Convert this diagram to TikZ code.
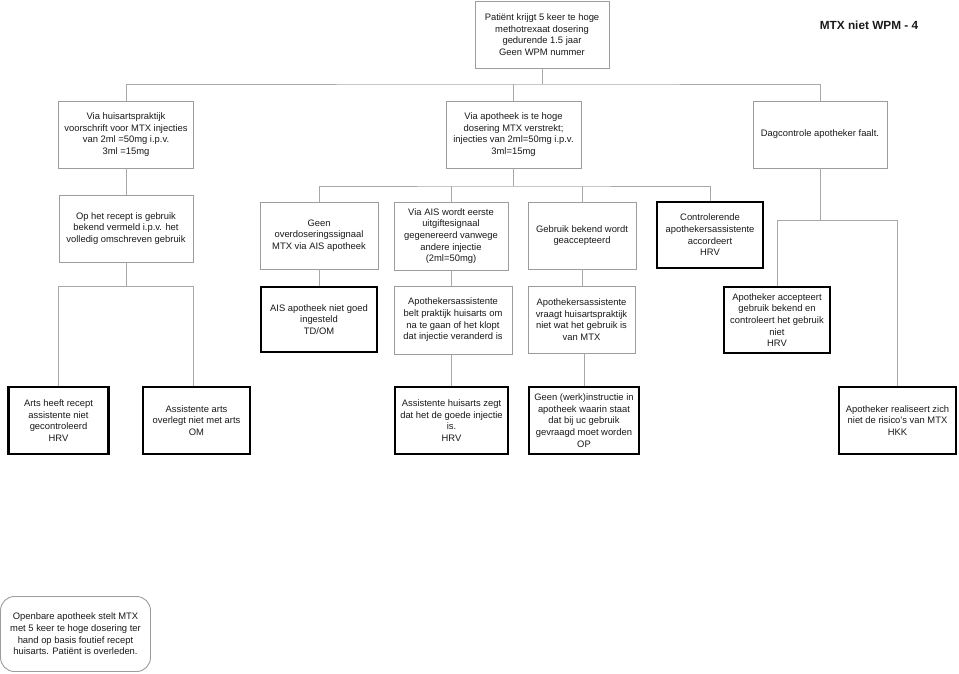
\documentclass[tikz,border=0pt]{standalone}
\usepackage{fontspec}
\setmainfont{Liberation Sans}
\definecolor{linegray}{HTML}{A8A8A8}
\definecolor{boxgray}{HTML}{9C9C9C}
\definecolor{txt}{HTML}{1A1A1A}
\begin{document}
\begin{tikzpicture}[x=1pt,y=-1pt,
  every node/.style={text=txt,font=\fontsize{9.4}{11.7}\selectfont,align=center,inner sep=0pt},
  thinbox/.style={draw=boxgray,line width=0.9pt,fill=white,rectangle},
  thickbox/.style={draw=black,line width=2.4pt,fill=white,rectangle},
  roundbox/.style={draw=boxgray,line width=0.9pt,fill=white,rectangle,rounded corners=14pt},
  conn/.style={draw=linegray,line width=0.9pt},
  sz/.style 2 args={minimum width=#1pt,minimum height=#2pt}]
\useasboundingbox (0,0) rectangle (959,673);
\fill[white] (0,0) rectangle (959,673);

% title
\node[font=\bfseries\fontsize{11.8}{14}\selectfont] (title) at (869,25) {MTX niet WPM - 4};

% row 1
\node[thinbox,sz={134}{67}] (top) at (542,34.5) {Patiënt krijgt 5 keer te hoge\\methotrexaat dosering\\gedurende 1.5 jaar\\Geen WPM nummer};

% row 2
\node[thinbox,sz={135}{67}] (A) at (126,134.5) {Via huisartspraktijk\\voorschrift voor MTX injecties\\van 2ml =50mg i.p.v.\\3ml =15mg};
\node[thinbox,sz={135}{67}] (B) at (513.5,134.5) {Via apotheek is te hoge\\dosering MTX verstrekt;\\injecties van 2ml=50mg i.p.v.\\3ml=15mg};
\node[thinbox,sz={134}{67}] (C) at (820,134.5) {Dagcontrole apotheker faalt.};

% row 3
\node[thinbox,sz={134}{67}] (oprecept) at (126,228.5) {Op het recept is gebruik\\bekend vermeld i.p.v. het\\volledig omschreven gebruik};
\node[thinbox,sz={118}{67}] (geen) at (319,235.5) {Geen\\overdoseringssignaal\\MTX via AIS apotheek};
\node[thinbox,sz={114}{68}] (via) at (451,236) {Via AIS wordt eerste\\uitgiftesignaal\\gegenereerd vanwege\\andere injectie\\(2ml=50mg)};
\node[thinbox,sz={108}{67}] (gebr) at (582,235.5) {Gebruik bekend wordt\\geaccepteerd};
\node[thickbox,sz={106}{66}] (ctrl) at (710,235) {Controlerende\\apothekersassistente\\accordeert\\HRV};

% row 4
\node[thickbox,sz={116}{65}] (ais) at (319,319.5) {AIS apotheek niet goed\\ingesteld\\TD/OM};
\node[thinbox,sz={118}{68}] (belt) at (453,320) {Apothekersassistente\\belt praktijk huisarts om\\na te gaan of het klopt\\dat injectie veranderd is};
\node[thinbox,sz={107}{67}] (vraagt) at (581.5,319.5) {Apothekersassistente\\vraagt huisartspraktijk\\niet wat het gebruik is\\van MTX};
\node[thickbox,sz={106}{66}] (acc) at (777,320) {Apotheker accepteert\\gebruik bekend en\\controleert het gebruik\\niet\\HRV};

% row 5
\node[thickbox,sz={100}{67}] (arts) at (58.5,420.5) {Arts heeft recept\\assistente niet\\gecontroleerd\\HRV};
\node[thickbox,sz={107}{67}] (assarts) at (196.5,420.5) {Assistente arts\\overlegt niet met arts\\OM};
\node[thickbox,sz={113}{67}] (huis) at (451.5,420.5) {Assistente huisarts zegt\\dat het de goede injectie\\is.\\HRV};
\node[thickbox,sz={110}{67}] (werk) at (584,420.5) {Geen (werk)instructie in\\apotheek waarin staat\\dat bij uc gebruik\\gevraagd moet worden\\OP};
\node[thickbox,sz={117}{67}] (real) at (897.5,420.5) {Apotheker realiseert zich\\niet de risico's van MTX\\HKK};

% row 6
\node[roundbox,sz={150}{75}] (open) at (75.5,634) {Openbare apotheek stelt MTX\\met 5 keer te hoge dosering ter\\hand op basis foutief recept\\huisarts. Patiënt is overleden.};

% junction coordinates
\coordinate (j1) at (542,84);
\coordinate (j2) at (513.5,186);
\coordinate (bl) at (58.5,286);
\coordinate (br) at (193,286);
\coordinate (rl) at (777,220);
\coordinate (rr) at (897.5,220);

% connectors
\draw[conn] (top.south) -- (j1);
\draw[conn] (A.north) |- (j1) -| (C.north);
\draw[conn] (B.north) -- (B.north |- j1);

\draw[conn] (A.south) -- (oprecept.north);
\draw[conn] (B.south) -- (j2);
\draw[conn] (geen.north) |- (j2) -| (ctrl.north);
\draw[conn] (via.north) -- (via.north |- j2);
\draw[conn] (gebr.north) -- (gebr.north |- j2);

\draw[conn] (geen.south) -- (ais.north);
\draw[conn] (via.south) -- (via.south |- belt.north);
\draw[conn] (gebr.south) -- (gebr.south |- vraagt.north);

\draw[conn] (oprecept.south) -- (oprecept.south |- bl);
\draw[conn] (arts.north) -- (bl) -- (br) -- (br |- assarts.north);

\draw[conn] (belt.south -| huis.north) -- (huis.north);
\draw[conn] (vraagt.south -| werk.north) -- (werk.north);

\draw[conn] (C.south) -- (C.south |- rl);
\draw[conn] (acc.north) -- (rl) -- (rr) -- (real.north);
\end{tikzpicture}
\end{document}
